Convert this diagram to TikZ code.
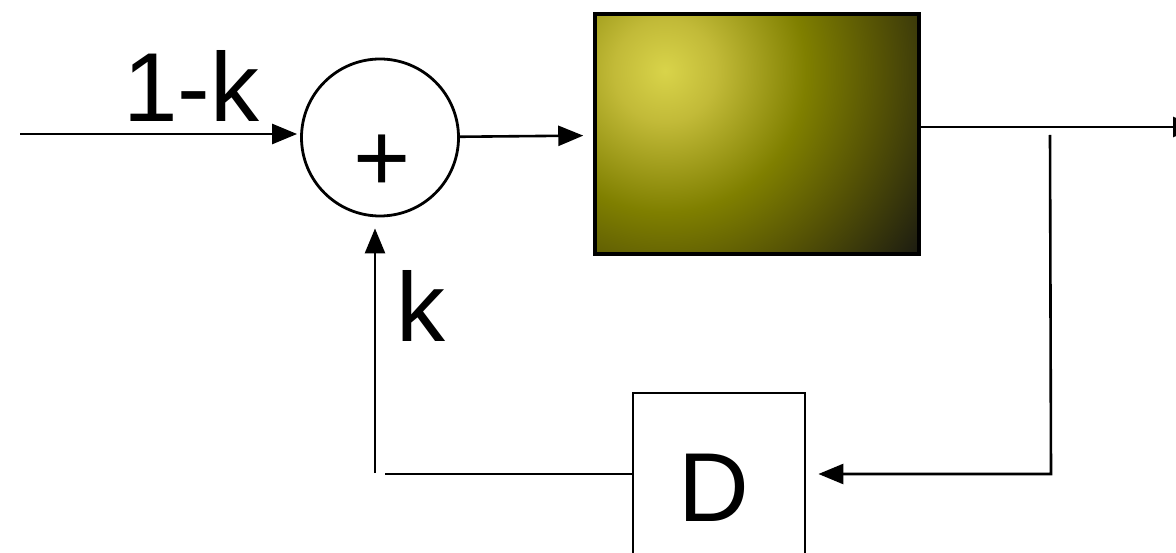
\documentclass[tikz,border=0pt]{standalone}
\usepackage{fontspec}
\setmainfont{Liberation Sans}
\usetikzlibrary{arrows.meta}
\pgfdeclareradialshading{boxshade}{\pgfpoint{0bp}{0bp}}{%
  rgb(0bp)=(0.85,0.83,0.29);
  rgb(4bp)=(0.76,0.73,0.22);
  rgb(11bp)=(0.50,0.50,0.00);
  rgb(17bp)=(0.33,0.32,0.02);
  rgb(25bp)=(0.09,0.09,0.07);
  rgb(50bp)=(0.09,0.09,0.07)}
\tikzset{
  wire/.style={line width=2.6pt},
  arr/.style={wire,-{Triangle[length=25pt,width=20pt]}},
  lbl/.style={inner sep=0pt,font=\fontsize{98}{100}\selectfont},
  sumnode/.style={circle,draw,line width=2.8pt,minimum size=157pt,inner sep=0pt},
  plantbox/.style={draw,line width=3.5pt,minimum width=324pt,minimum height=240pt,inner sep=0pt,
    path picture={\shade[shading=boxshade]
      ([xshift=70pt,yshift=-57pt]path picture bounding box.north west) circle (320pt);}},
  delaybox/.style={draw,line width=2.8pt,minimum width=172pt,minimum height=200pt,inner sep=0pt}
}
\begin{document}
\begin{tikzpicture}[x=1pt,y=-1pt]
\useasboundingbox (0,0) rectangle (1176,553);
% nodes
\node[sumnode] (sum) at (380,137.5) {};
\node[lbl] (plus) at (382,163) {+};
\node[plantbox] (box) at (757,134) {};
\node[delaybox] (dbox) at (719,493) {};
\node[lbl] (dlabel) at (713.5,488) {D};
\node[lbl,anchor=base] (lin) at (191.5,122) {1-k};
\node[lbl,anchor=base west] (lfb) at (396.5,342) {k};
% coordinates
\coordinate (in) at (20,134);
\coordinate (out) at (1198,127);
\coordinate (tap) at (1050,135);
\coordinate (corner) at (1051,474);
\coordinate (fbl) at (385,474);
\coordinate (fbv) at (375,473);
% connectors
\draw[arr,shorten >=3pt] (in) -- (in -| sum.west);
\draw[arr,shorten >=10pt] (sum) -- (box);
\draw[arr] (out -| box.east) -- (out);
\draw[arr,shorten >=12pt] (tap) -- (corner) -- (dbox.east |- corner);
\draw[wire] (dbox.west |- fbl) -- (fbl);
\draw[arr,shorten >=11pt] (fbv) -- (fbv |- sum.south);
\end{tikzpicture}
\end{document}
